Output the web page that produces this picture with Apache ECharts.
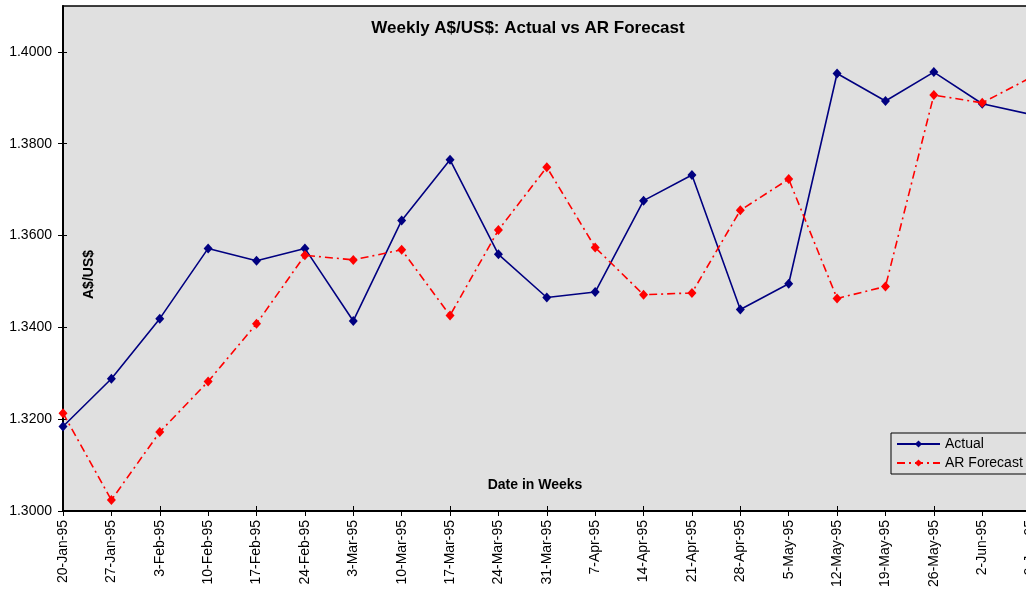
<!DOCTYPE html>
<html>
<head>
<meta charset="utf-8">
<script src="https://cdn.jsdelivr.net/npm/echarts@6/dist/echarts.min.js"></script>
<style>
html,body{margin:0;padding:0;background:#fff;}
#chart{width:1026px;height:591px;}
</style>
</head>
<body>
<div id="chart"></div>
<script>
const categories = ['20-Jan-95','27-Jan-95','3-Feb-95','10-Feb-95','17-Feb-95','24-Feb-95','3-Mar-95','10-Mar-95','17-Mar-95','24-Mar-95','31-Mar-95','7-Apr-95','14-Apr-95','21-Apr-95','28-Apr-95','5-May-95','12-May-95','19-May-95','26-May-95','2-Jun-95','9-Jun-95'];
const actual = [1.3184,1.3288,1.3419,1.3572,1.3545,1.3572,1.3414,1.3633,1.3765,1.3559,1.3465,1.3477,1.3676,1.3732,1.3439,1.3495,1.3953,1.3893,1.3956,1.3887,1.3864];
const arForecast = [1.3213,1.3024,1.3172,1.3282,1.3408,1.3557,1.3547,1.3569,1.3426,1.3612,1.3749,1.3574,1.3471,1.3475,1.3655,1.3723,1.3463,1.3489,1.3906,1.3889,1.3944];
const yTicks = [1.30,1.32,1.34,1.36,1.38,1.40];
const yMin = 1.30, yMax = 1.41;

const FONT = "'Liberation Sans', Arial, sans-serif";
const chart = echarts.init(document.getElementById('chart'), null, {renderer:'canvas'});

const hiddenX = {
  type:'category', data:categories, boundaryGap:false, position:'bottom',
  axisLine:{show:false}, axisLabel:{show:false},
  axisTick:{show:true, inside:true, length:5, alignWithLabel:true, lineStyle:{color:'#000', width:1}},
  splitLine:{show:false}
};
const hiddenY = {
  type:'value', min:yMin, max:yMax, interval:0.02, position:'left',
  axisLine:{show:false}, axisLabel:{show:false},
  axisTick:{show:true, inside:true, length:4, customValues:yTicks, lineStyle:{color:'#000', width:1}},
  splitLine:{show:false}
};

chart.setOption({
  animation:false,
  backgroundColor:'#ffffff',
  textStyle:{fontFamily:FONT},
  grid:{
    left:63, top:6, width:967.6, height:505,
    show:true, backgroundColor:'#e0e0e0', borderColor:'#000', borderWidth:1.5,
    containLabel:false, outerBoundsMode:'none'
  },
  xAxis:[{
    type:'category', data:categories, boundaryGap:false, position:'bottom',
    axisLine:{show:true, lineStyle:{color:'#000', width:2}},
    axisTick:{show:true, length:5, alignWithLabel:true, lineStyle:{color:'#000', width:1}},
    axisLabel:{interval:0, rotate:90, margin:9, fontSize:14, color:'#000', fontFamily:FONT},
    splitLine:{show:false}
  }, hiddenX],
  yAxis:[{
    type:'value', min:yMin, max:yMax, interval:0.02, position:'left',
    axisLine:{show:true, lineStyle:{color:'#000', width:2}},
    axisTick:{show:true, length:5, customValues:yTicks, lineStyle:{color:'#000', width:1}},
    axisLabel:{margin:11, fontSize:14, color:'#000', fontFamily:FONT, customValues:yTicks,
      formatter:function(v){ return v > 1.405 ? '' : v.toFixed(4); }},
    splitLine:{show:false}
  }, hiddenY],
  legend:{
    data:['Actual','AR Forecast'], orient:'vertical',
    left:891, top:433,
    padding:[3,4,3,5],
    itemWidth:43, itemHeight:9, itemGap:3,
    backgroundColor:'#e0e0e0', borderColor:'#000', borderWidth:1, borderRadius:0,
    textStyle:{fontSize:14, color:'#000', fontFamily:FONT, lineHeight:16}
  },
  graphic:[
    {type:'text', x:528, y:28, style:{text:'Weekly A$/US$: Actual vs AR Forecast', fontFamily:FONT, fontSize:17, fontWeight:'bold', fill:'#000', align:'center', verticalAlign:'middle'}},
    {type:'text', x:89, y:274.5, rotation:Math.PI/2, style:{text:'A$/US$', fontFamily:FONT, fontSize:14, fontWeight:'bold', fill:'#000', align:'center', verticalAlign:'middle'}},
    {type:'text', x:535, y:485, style:{text:'Date in Weeks', fontFamily:FONT, fontSize:14, fontWeight:'bold', fill:'#000', align:'center', verticalAlign:'middle'}}
  ],
  series:[
    {
      name:'Actual', type:'line', data:actual, xAxisIndex:0, yAxisIndex:0,
      symbol:'diamond', symbolSize:[9,10], showAllSymbol:true,
      lineStyle:{color:'#000080', width:1.6},
      itemStyle:{color:'#000080'}
    },
    {
      name:'AR Forecast', type:'line', data:arForecast, xAxisIndex:0, yAxisIndex:0,
      symbol:'diamond', symbolSize:[9,10], showAllSymbol:true,
      lineStyle:{color:'#ff0000', width:1.6, type:[8,4,2,4]},
      itemStyle:{color:'#ff0000'}
    }
  ]
});
</script>
</body>
</html>
